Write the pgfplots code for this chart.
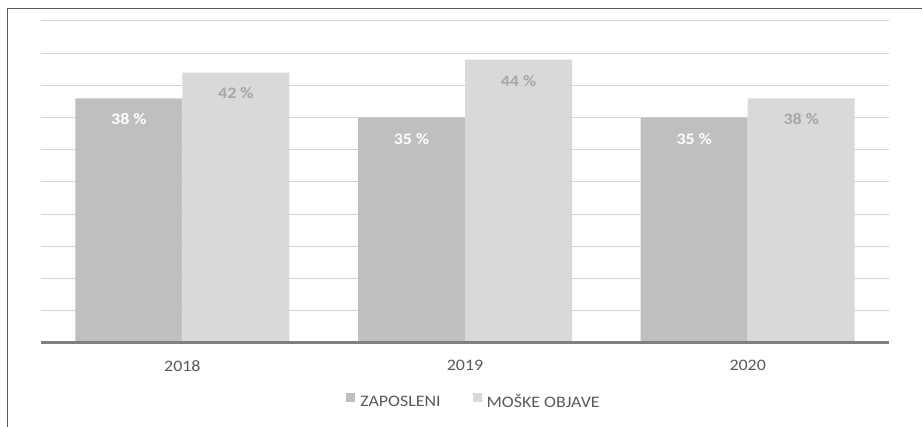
\documentclass[border=0pt]{standalone}
\usepackage{fontspec}
\setmainfont{Carlito}[FakeStretch=1.12]
\usepackage{pgfplots}
\pgfplotsset{compat=1.18}
\definecolor{darkbar}{HTML}{BFBFBF}
\definecolor{lightbar}{HTML}{D9D9D9}
\definecolor{gridc}{HTML}{D4D4D4}
\definecolor{txtgray}{HTML}{595959}
\definecolor{lblgray}{HTML}{A6A6A6}
\begin{document}
\begin{tikzpicture}
\path[use as bounding box] (0,0) rectangle (922pt,-427pt);
\draw[color=black!65, line width=1pt] (7.5pt,-427pt) -- (7.5pt,-9pt) -- (922pt,-9pt);
\begin{axis}[
  at={(41pt,-343pt)}, anchor=south west,
  scale only axis, width=848pt, height=322pt,
  xmin=-0.5, xmax=2.5, ymin=0, ymax=50,
  ybar=0pt, bar width=107pt,
  xtick={0,1,2}, xticklabels={2018,2019,2020},
  ytick={0,5,...,50}, yticklabels={},
  ymajorgrids, grid style={color=gridc, line width=1pt},
  axis x line*=bottom, axis y line*=left,
  x axis line style={draw=none}, y axis line style={draw=none},
  major tick length=0pt,
  font=\fontsize{16}{18}\selectfont,
  xticklabel style={text=txtgray, inner sep=0pt, anchor=north, yshift=-17pt},
  /pgf/number format/assume math mode=true,
  nodes near coords={\pgfmathprintnumber{\pgfplotspointmeta}~\%},
  every node near coord/.append style={font=\fontsize{16}{18}\selectfont\bfseries, anchor=center, yshift=-21pt, inner sep=0pt},
  legend style={at={(0.5106,-0.1832)}, anchor=center, draw=none, fill=none, legend columns=2,
    font=\fontsize{16}{18}\selectfont, text=txtgray, inner sep=0pt,
    /tikz/every even column/.append style={column sep=30pt}},
  legend image code/.code={\fill[#1] (0pt,0.5pt) rectangle (9pt,9.5pt); \path (12pt,0pt);},
  clip=false,
  after end axis/.code={\draw[color=black!50, line width=3pt] (rel axis cs:0,0) -- (rel axis cs:1,0);},
]
\addplot[fill=darkbar, draw=none, every node near coord/.append style={text=white}] coordinates {(0,38) (1,35) (2,35)};
\addplot[fill=lightbar, draw=none, every node near coord/.append style={text=lblgray}] coordinates {(0,42) (1,44) (2,38)};
\legend{ZAPOSLENI, MOŠKE OBJAVE}
\end{axis}
\end{tikzpicture}
\end{document}
